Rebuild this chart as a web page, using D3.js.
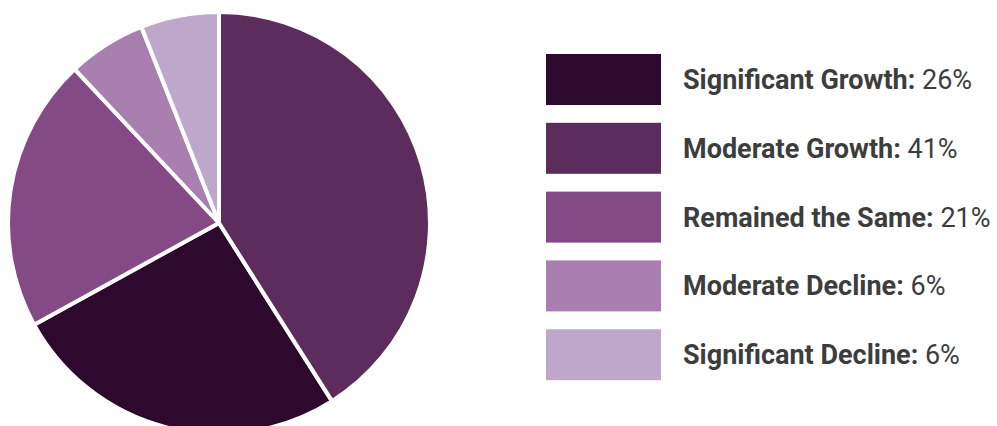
<!DOCTYPE html>
<html>
<head>
<meta charset="utf-8">
<script src="https://cdn.jsdelivr.net/npm/d3@7"></script>
<style>
  html, body { margin: 0; padding: 0; background: #fff; }
  svg { display: block; }
</style>
</head>
<body>
<svg id="chart" width="997" height="426"></svg>
<script>
// Share of respondents by change category
const categories = ["Significant Growth", "Moderate Growth", "Remained the Same", "Moderate Decline", "Significant Decline"];
const values = [26, 41, 21, 6, 6];
const colors = ["#2d0a2d", "#5c2d5c", "#844a86", "#a87faf", "#bfa7cc"];

const data = categories.map((c, i) => ({ category: c, value: values[i] }));

const svg = d3.select("#chart");

const color = d3.scaleOrdinal().domain(categories).range(colors);

// Pie: slices ordered by value, largest first, clockwise from 12 o'clock
const cx = 219, cy = 223, radius = 211;
const pie = d3.pie().value(d => d.value);
const arc = d3.arc().innerRadius(0).outerRadius(radius);

const g = svg.append("g").attr("transform", `translate(${cx},${cy})`);
g.selectAll("path")
  .data(pie(data))
  .join("path")
  .attr("d", arc)
  .attr("fill", d => color(d.data.category))
  .attr("stroke", "#fff")
  .attr("stroke-width", 4)
  .attr("stroke-linejoin", "round");

// Legend
const legendX = 546, legendY = 54, swatchW = 115, swatchH = 51, rowStep = 68.8;
const legend = svg.append("g").attr("transform", `translate(${legendX},${legendY})`);
const rows = legend.selectAll("g")
  .data(data)
  .join("g")
  .attr("transform", (d, i) => `translate(0,${i * rowStep})`);

rows.append("rect")
  .attr("width", swatchW)
  .attr("height", swatchH)
  .attr("fill", d => color(d.category));

const label = rows.append("text")
  .attr("x", 137)
  .attr("y", swatchH / 2)
  .attr("dy", "0.35em")
  .style("font-family", "Roboto, sans-serif")
  .style("font-size", "27px")
  .attr("fill", "#3d3d3d");

label.append("tspan")
  .style("font-weight", "700")
  .text(d => d.category + ":");
label.append("tspan")
  .style("font-weight", "400")
  .text(d => " " + d.value + "%");
</script>
</body>
</html>
